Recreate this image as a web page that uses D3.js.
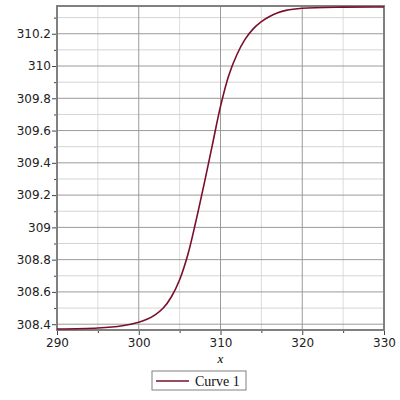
<!DOCTYPE html>
<html>
<head>
<meta charset="utf-8">
<script src="https://cdn.jsdelivr.net/npm/d3@7"></script>
<style>
  body { margin: 0; background: #fff; }
  svg { display: block; }
</style>
</head>
<body>
<div id="chart"></div>
<script>

// data
var xs = [290, 295, 298, 300, 301, 302, 303, 304, 305, 306, 307, 308, 309, 310,
          311, 312, 313, 314, 315, 316, 317, 318, 320, 325, 330];
var ys = [308.370, 308.376, 308.39, 308.412, 308.43, 308.458, 308.50, 308.57, 308.675,
          308.83, 309.04, 309.27, 309.51, 309.75, 309.94, 310.07, 310.165, 310.23,
          310.275, 310.307, 310.33, 310.345, 310.358, 310.365, 310.366];
var xTicks = [290, 300, 310, 320, 330];
var xMinor = [295, 305, 315, 325];
var yTicks = [308.4, 308.6, 308.8, 309, 309.2, 309.4, 309.6, 309.8, 310, 310.2];
var yMinor = [308.5, 308.7, 308.9, 309.1, 309.3, 309.5, 309.7, 309.9, 310.1, 310.3];
var seriesName = "Curve 1";
var xLabel = "x";

var margin = {top: 6, right: 16, bottom: 70, left: 57},
    width = 400 - margin.left - margin.right,
    height = 400 - margin.top - margin.bottom;

var svg = d3.select("#chart")
  .append("svg")
    .attr("width", 400)
    .attr("height", 400)
  .append("g")
    .attr("transform", "translate(" + margin.left + "," + margin.top + ")");

var x = d3.scaleLinear()
    .domain([290, 330])
    .range([0, width]);

var y = d3.scaleLinear()
    .domain([308.364, 310.372])
    .range([height, 0]);

// grid: minor first, then major
svg.append("g").selectAll("line")
  .data(xMinor).enter().append("line")
    .attr("x1", function(d) { return x(d); })
    .attr("x2", function(d) { return x(d); })
    .attr("y1", 0).attr("y2", height)
    .style("stroke", "#dcdcdc");
svg.append("g").selectAll("line")
  .data(yMinor).enter().append("line")
    .attr("y1", function(d) { return y(d); })
    .attr("y2", function(d) { return y(d); })
    .attr("x1", 0).attr("x2", width)
    .style("stroke", "#d4d4d4");
svg.append("g").selectAll("line")
  .data(xTicks).enter().append("line")
    .attr("x1", function(d) { return x(d); })
    .attr("x2", function(d) { return x(d); })
    .attr("y1", 0).attr("y2", height)
    .style("stroke", "#9a9a9a");
svg.append("g").selectAll("line")
  .data(yTicks).enter().append("line")
    .attr("y1", function(d) { return y(d); })
    .attr("y2", function(d) { return y(d); })
    .attr("x1", 0).attr("x2", width)
    .style("stroke", "#9a9a9a");

// axes
var xAxis = svg.append("g")
    .attr("transform", "translate(0," + height + ")")
    .call(d3.axisBottom(x).tickValues(xTicks).tickSize(5).tickPadding(3).tickFormat(d3.format("d")));
var xAxisMinor = svg.append("g")
    .attr("transform", "translate(0," + height + ")")
    .call(d3.axisBottom(x).tickValues(xMinor).tickSize(3).tickFormat(""));
var yAxis = svg.append("g")
    .call(d3.axisLeft(y).tickValues(yTicks).tickSize(5).tickPadding(1).tickFormat(function(d) { return d3.format("")(+d.toFixed(1)); }));
var yAxisMinor = svg.append("g")
    .call(d3.axisLeft(y).tickValues(yMinor).tickSize(3).tickFormat(""));

[xAxis, xAxisMinor, yAxis, yAxisMinor].forEach(function(a) {
  a.select(".domain").remove();
  a.selectAll("line").style("stroke", "#444");
  a.selectAll("text")
    .style("font-family", "DejaVu Sans, sans-serif")
    .style("font-size", "12px")
    .style("fill", "#222");
});

// frame
svg.append("rect")
    .attr("x", 0).attr("y", 0)
    .attr("width", width).attr("height", height)
    .style("fill", "none")
    .style("stroke", "#808080")
    .style("stroke-width", 2);

// curve
var line = d3.line()
    .x(function(d, i) { return x(xs[i]); })
    .y(function(d) { return y(d); })
    .curve(d3.curveCatmullRom.alpha(0.5));

svg.append("path")
    .datum(ys)
    .attr("d", line)
    .style("fill", "none")
    .style("stroke", "#7a0f2b")
    .style("stroke-width", 1.6);

// x axis label
svg.append("text")
    .attr("x", x(310))
    .attr("y", height + 33)
    .attr("text-anchor", "middle")
    .style("font-family", "Liberation Serif, serif")
    .style("font-style", "italic")
    .style("font-size", "13px")
    .text(xLabel);

// legend
var lg = svg.append("g")
    .attr("transform", "translate(" + (152 - margin.left) + "," + (371 - margin.top) + ")");
lg.append("rect")
    .attr("width", 94).attr("height", 19)
    .style("fill", "#fff")
    .style("stroke", "#808080");
lg.append("line")
    .attr("x1", 4).attr("x2", 37)
    .attr("y1", 10).attr("y2", 10)
    .style("stroke", "#7a0f2b")
    .style("stroke-width", 1.6);
lg.append("text")
    .attr("x", 43)
    .attr("y", 15)
    .style("font-family", "Liberation Serif, serif")
    .style("font-size", "14px")
    .style("fill", "#111")
    .text(seriesName);

</script>
</body>
</html>
